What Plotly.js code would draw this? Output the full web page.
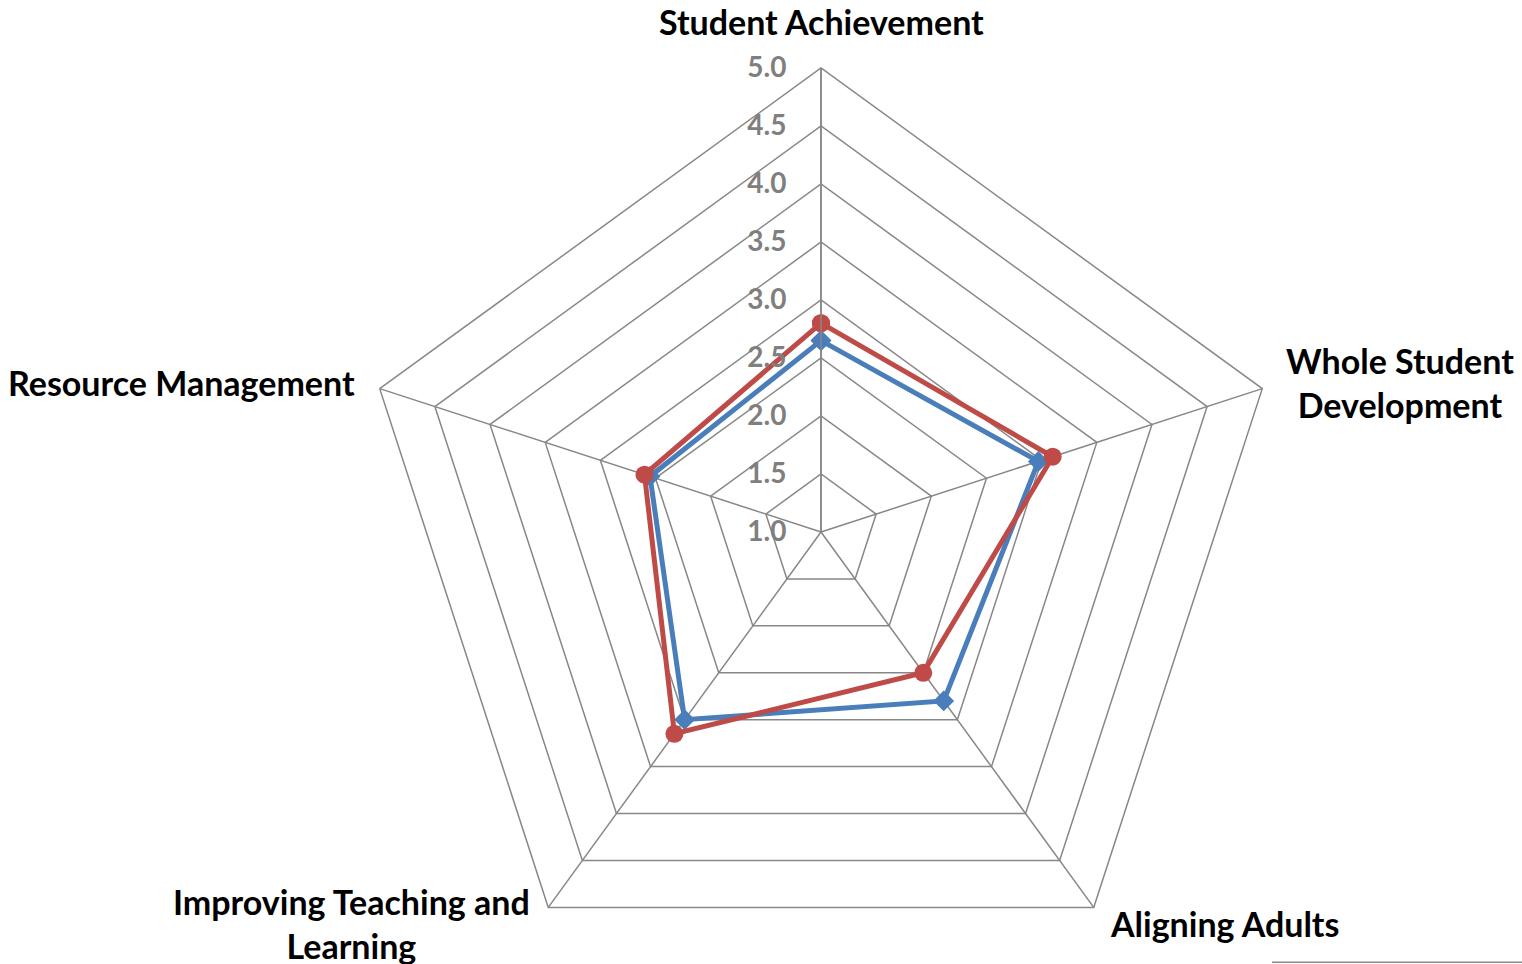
<!DOCTYPE html>
<html>
<head>
<meta charset="utf-8">
<script src="https://cdn.plot.ly/plotly-3.0.1.min.js"></script>
<style>
  html, body { margin: 0; padding: 0; overflow: hidden; background: #fff; }
  #chart { width: 1522px; height: 1000px; }
</style>
</head>
<body>
<div id="chart"></div>
<script>
const categories = ['Student Achievement', 'Whole Student<br>Development', 'Aligning Adults', 'Improving Teaching and<br>Learning', 'Resource Management'];
const blueValues = [2.65, 2.97, 2.8, 3.0, 2.55];
const redValues = [2.8, 3.1, 2.5, 3.15, 2.6];
const radialTickVals = [1.0, 1.5, 2.0, 2.5, 3.0, 3.5, 4.0, 4.5, 5.0];
const radialTickText = ['1.0', '1.5', '2.0', '2.5', '3.0', '3.5', '4.0', '4.5', '5.0'];

// label placement (paper coordinates of the polar plot area), kept apart from the data
const labelPos = [
  { x: 0.5, y: 1.0496 },
  { x: 1.1239, y: 0.6616 },
  { x: 0.9343, y: 0.0776 },
  { x: -0.0054, y: 0.0776 },
  { x: -0.1886, y: 0.6606 }
];

const closeLoop = arr => arr.concat([arr[0]]);
const gridGray = '#878787';

const traces = [
  {
    type: 'scatterpolar',
    r: closeLoop(blueValues),
    theta: closeLoop(categories),
    mode: 'lines+markers',
    line: { color: '#4A7EBB', width: 5 },
    marker: { symbol: 'diamond', size: 16, color: '#4A7EBB' },
    hoverinfo: 'skip'
  },
  {
    type: 'scatterpolar',
    r: closeLoop(redValues),
    theta: closeLoop(categories),
    mode: 'lines+markers',
    line: { color: '#BE4B48', width: 5 },
    marker: { symbol: 'circle', size: 18, color: '#BE4B48' },
    hoverinfo: 'skip'
  }
];

const annotations = categories.map((c, i) => ({
  xref: 'paper', yref: 'paper',
  x: labelPos[i].x, y: labelPos[i].y,
  xanchor: 'center', yanchor: 'middle', align: 'center',
  showarrow: false,
  text: c,
  font: { family: 'Lato, sans-serif', size: 34, color: '#000000', weight: 'bold' }
}));

const layout = {
  width: 1522,
  height: 1000,
  margin: { l: 357, r: 237, t: 68, b: 4 },
  paper_bgcolor: 'white',
  showlegend: false,
  annotations: annotations,
  shapes: [
    { type: 'line', xref: 'paper', yref: 'paper', x0: 0.986, x1: 1.26, y0: 0.0365, y1: 0.0365,
      line: { color: '#8a8a8a', width: 1.5 } }
  ],
  polar: {
    gridshape: 'linear',
    bgcolor: 'white',
    radialaxis: {
      range: [1, 5],
      tickvals: radialTickVals,
      ticktext: radialTickText.map(t => '<b>' + t + '</b>'),
      angle: 90,
      side: 'counterclockwise',
      tickangle: 90,
      showline: true,
      linecolor: gridGray,
      linewidth: 1.5,
      gridcolor: gridGray,
      gridwidth: 1.5,
      ticks: 'outside',
      ticklen: 24,
      tickcolor: 'rgba(0,0,0,0)',
      tickfont: { family: 'Lato, sans-serif', size: 28, color: '#7F7F7F', weight: 'bold' }
    },
    angularaxis: {
      rotation: 90,
      direction: 'clockwise',
      showline: true,
      showticklabels: false,
      linecolor: gridGray,
      linewidth: 1.5,
      gridcolor: gridGray,
      gridwidth: 1.5,
      ticks: ''
    }
  }
};

Plotly.newPlot('chart', traces, layout, { displayModeBar: false, staticPlot: true });
</script>
</body>
</html>
